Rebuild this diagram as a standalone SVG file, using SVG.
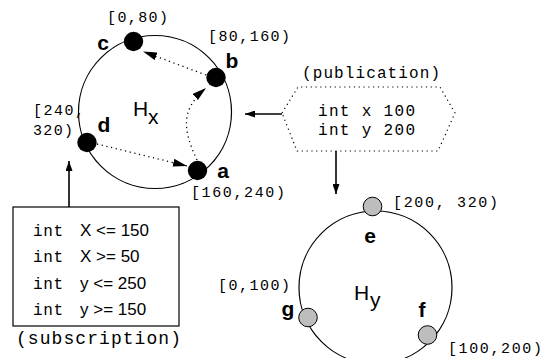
<svg xmlns="http://www.w3.org/2000/svg" width="551" height="358" viewBox="0 0 551 358">
  <style>
    .ring { fill: none; stroke: #000; stroke-width: 1.2; }
    .peer { fill: #000; }
    .peer-y { fill: #bdbdbd; stroke: #000; stroke-width: 1; }
    .name { font-family: "Liberation Sans", Arial, sans-serif; font-weight: bold; font-size: 21px; fill: #000; text-anchor: middle; }
    .range { font-family: "Liberation Mono", "Courier New", monospace; font-size: 15px; fill: #000; }
    .mono { font-family: "Liberation Mono", "Courier New", monospace; font-size: 16px; fill: #000; }
    .caption { font-family: "Liberation Mono", "Courier New", monospace; font-size: 18px; fill: #000; }
    .sans { font-family: "Liberation Sans", Arial, sans-serif; font-size: 17px; fill: #000; }
    .hub { font-family: "Liberation Sans", Arial, sans-serif; font-size: 21px; fill: #000; }
    .solid { fill: none; stroke: #000; stroke-width: 1.6; }
    .dotted { fill: none; stroke: #000; stroke-width: 1.3; stroke-dasharray: 1.2 3.6; }
  </style>
  <defs>
    <marker id="head" viewBox="0 0 10 7" refX="10" refY="3.5" markerWidth="10" markerHeight="7" markerUnits="userSpaceOnUse" orient="auto">
      <path d="M0,0 L10,3.5 L0,7 z" fill="#000"/>
    </marker>
    <marker id="head-dot" viewBox="0 0 14 8" refX="14" refY="4" markerWidth="14" markerHeight="8" markerUnits="userSpaceOnUse" orient="auto">
      <path d="M0,0 L14,4 L0,8 z" fill="#000"/>
    </marker>
  </defs>

  <!-- overlay ring Hx -->
  <g id="ring-hx">
    <circle class="ring" cx="155" cy="112" r="76.5"/>
    <text class="hub" x="133" y="116">H</text>
    <text class="hub" x="148" y="124">x</text>
  </g>

  <!-- overlay ring Hy -->
  <g id="ring-hy">
    <circle class="ring" cx="375.5" cy="287.5" r="76.5"/>
    <text class="hub" x="354" y="300">H</text>
    <text class="hub" x="370" y="307">y</text>
  </g>

  <!-- peers on Hx -->
  <g id="node-c">
    <circle class="peer" cx="133.5" cy="41.5" r="9.7"/>
    <text class="name" x="103" y="50">c</text>
    <text class="range" x="107" y="22" textLength="61" lengthAdjust="spacing">[0,80)</text>
  </g>
  <g id="node-b">
    <circle class="peer" cx="216" cy="77.5" r="9.7"/>
    <text class="name" x="232" y="68">b</text>
    <text class="range" x="208" y="41" textLength="82" lengthAdjust="spacing">[80,160)</text>
  </g>
  <g id="node-d">
    <circle class="peer" cx="87" cy="142.5" r="9.7"/>
    <text class="name" x="104" y="132">d</text>
    <text class="range" x="33" y="115" textLength="51" lengthAdjust="spacing">[240,</text>
    <text class="range" x="33" y="135" textLength="40" lengthAdjust="spacing">320)</text>
  </g>
  <g id="node-a">
    <circle class="peer" cx="197.5" cy="170.5" r="9.7"/>
    <text class="name" x="223" y="178">a</text>
    <text class="range" x="191" y="197" textLength="94" lengthAdjust="spacing">[160,240)</text>
  </g>

  <!-- peers on Hy -->
  <g id="node-e">
    <circle class="peer-y" cx="372.5" cy="206.5" r="9.3"/>
    <text class="name" x="370" y="243">e</text>
    <text class="range" x="393" y="207" textLength="105" lengthAdjust="spacing">[200, 320)</text>
  </g>
  <g id="node-g">
    <circle class="peer-y" cx="308" cy="317.5" r="9.3"/>
    <text class="name" x="288" y="316">g</text>
    <text class="range" x="218" y="290" textLength="72" lengthAdjust="spacing">[0,100)</text>
  </g>
  <g id="node-f">
    <circle class="peer-y" cx="427.5" cy="335" r="9.3"/>
    <text class="name" x="422" y="317">f</text>
    <text class="range" x="448" y="353" textLength="94" lengthAdjust="spacing">[100,200)</text>
  </g>

  <!-- publication event -->
  <g id="publication">
    <polygon points="282,113 298,87 440,87 455,113 438,151 297,151" fill="none" stroke="#000" stroke-width="1.2" stroke-dasharray="1.2 3.6"/>
    <text class="mono" x="302" y="78" textLength="138" lengthAdjust="spacing">(publication)</text>
    <text class="mono" x="318" y="116" textLength="97" lengthAdjust="spacing">int x 100</text>
    <text class="mono" x="318" y="135" textLength="97" lengthAdjust="spacing">int y 200</text>
  </g>

  <!-- subscription filter -->
  <g id="subscription">
    <rect x="13" y="207" width="166" height="119" fill="#fff" stroke="#000" stroke-width="1.2"/>
    <text class="mono" x="33" y="236" textLength="30" lengthAdjust="spacing">int</text>
    <text class="sans" x="80" y="236">X &lt;= 150</text>
    <text class="mono" x="33" y="262" textLength="30" lengthAdjust="spacing">int</text>
    <text class="sans" x="80" y="262">X &gt;= 50</text>
    <text class="mono" x="33" y="289" textLength="30" lengthAdjust="spacing">int</text>
    <text class="sans" x="80" y="289">y &lt;= 250</text>
    <text class="mono" x="33" y="315" textLength="30" lengthAdjust="spacing">int</text>
    <text class="sans" x="80" y="315">y &gt;= 150</text>
    <text class="caption" x="16" y="344" textLength="165" lengthAdjust="spacing">(subscription)</text>
  </g>

  <!-- connectors -->
  <g id="connectors">
    <line class="solid" x1="282" y1="114" x2="245" y2="114" marker-end="url(#head)"/>
    <line class="solid" x1="336" y1="151" x2="336" y2="194" marker-end="url(#head)"/>
    <line class="solid" x1="69" y1="207" x2="69" y2="161" marker-end="url(#head)"/>
    <path class="dotted" d="M206,75 L143,51.5" marker-end="url(#head-dot)"/>
    <path class="dotted" d="M97,144 L187,166" marker-end="url(#head-dot)"/>
    <path class="dotted" d="M197,160 C183,130 180,110 206,88" marker-end="url(#head-dot)"/>
  </g>
</svg>
